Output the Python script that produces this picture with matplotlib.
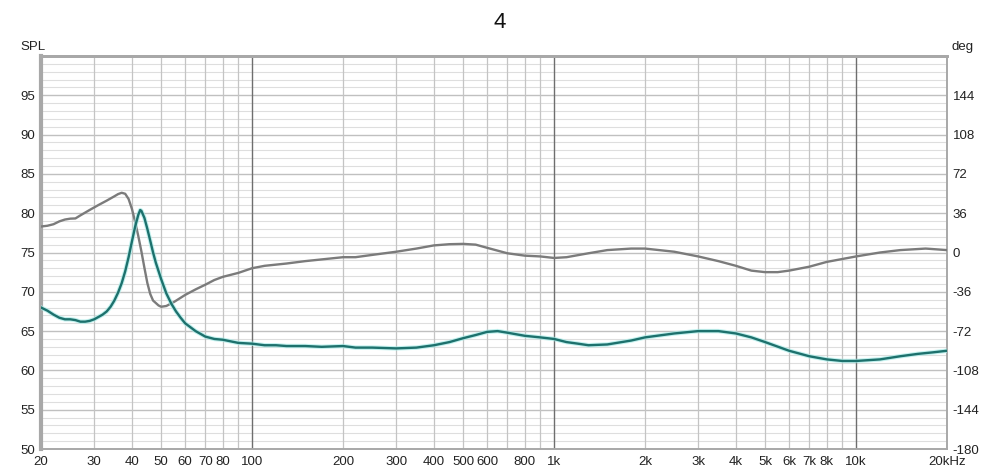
import matplotlib
matplotlib.use("Agg")
import matplotlib.pyplot as plt
import numpy as np

plt.rcParams['font.family'] = ['Liberation Sans', 'DejaVu Sans']

title = "4"

# SPL curve (dB)
spl_freq = [20, 21, 22, 23, 24, 25, 26, 27, 28, 29, 30, 31, 32, 33, 34, 35, 36, 37, 38, 39, 40,
            41, 42, 42.6, 43, 44, 45, 46, 47, 48, 50, 52, 54, 56, 58, 60, 65, 70, 75, 80,
            90, 100, 110, 120, 130, 150, 170, 200, 220, 250, 300, 350, 400, 450, 500,
            550, 600, 650, 700, 800, 900, 1000, 1100, 1200, 1300, 1500, 1800, 2000,
            2500, 3000, 3500, 4000, 4500, 5000, 6000, 7000, 8000, 9000, 10000, 12000,
            14000, 16000, 18000, 20000]
spl_db = [68.0, 67.6, 67.1, 66.7, 66.5, 66.5, 66.4, 66.2, 66.2, 66.3, 66.5, 66.8, 67.1, 67.5, 68.1, 68.9, 69.9, 71.1, 72.6, 74.4, 76.4,
          78.3, 79.8, 80.4, 80.3, 79.4, 78.0, 76.5, 75.0, 73.7, 71.6, 69.8, 68.5, 67.5, 66.7, 66.0, 65.0, 64.3, 64.0, 63.9,
          63.5, 63.4, 63.2, 63.2, 63.1, 63.1, 63.0, 63.1, 62.9, 62.9, 62.8, 62.9, 63.2, 63.6, 64.1,
          64.5, 64.9, 65.0, 64.8, 64.4, 64.2, 64.0, 63.6, 63.4, 63.2, 63.3, 63.8, 64.2,
          64.7, 65.0, 65.0, 64.7, 64.2, 63.6, 62.5, 61.8, 61.4, 61.2, 61.2, 61.4,
          61.8, 62.1, 62.3, 62.5]

# Phase curve (degrees)
ph_freq = [20, 21, 22, 23, 24, 25, 26, 27, 29, 31, 33, 35, 36, 37, 38, 39, 40, 41, 42, 43,
           44, 45, 46, 47, 49, 50, 52, 55, 60, 65, 70, 75, 80, 90, 100, 110, 130, 150,
           200, 220, 250, 300, 350, 400, 450, 500, 550, 600, 700, 800, 900, 1000, 1100,
           1300, 1500, 1800, 2000, 2500, 3000, 3500, 4000, 4500, 5000, 5500, 6000, 7000,
           8000, 10000, 12000, 14000, 17000, 20000]
ph_deg = [23.8, 24.5, 25.9, 28.5, 30.2, 31.0, 31.2, 34.0, 39.0, 43.5, 47.5, 51.5, 53.5, 54.7, 53.8, 49.0, 40.0, 28.0, 15.0, 1.0,
          -14.0, -28.0, -38.0, -44.0, -48.5, -49.7, -49.0, -45.5, -38.9, -33.8, -29.5, -25.2, -22.3, -18.7, -14.4, -12.2, -10.1, -7.9,
          -4.3, -4.3, -2.2, 0.7, 3.6, 6.5, 7.6, 7.9, 7.2, 4.3, -0.7, -2.9, -3.6, -5.0, -4.3,
          -0.7, 2.2, 3.6, 3.6, 0.7, -3.6, -7.9, -12.2, -16.6, -18.0, -18.0, -16.6, -13.0,
          -8.6, -3.6, 0.0, 2.2, 3.6, 2.2]

x_ticks = [20, 30, 40, 50, 60, 70, 80, 100, 200, 300, 400, 500, 600, 800,
           1000, 2000, 3000, 4000, 5000, 6000, 7000, 8000, 10000, 20000]
x_labels = ["20", "30", "40", "50", "60", "70", "80", "100", "200", "300", "400", "500", "600", "800",
            "1k", "2k", "3k", "4k", "5k", "6k", "7k", "8k", "10k", "20kHz"]
y_ticks = [50, 55, 60, 65, 70, 75, 80, 85, 90, 95]
deg_ticks = [-180, -144, -108, -72, -36, 0, 36, 72, 108, 144]

fig = plt.figure(figsize=(10, 4.71), dpi=100)
ax = fig.add_axes([0.041, 22/471, 0.906, 393/471])
ax.set_xscale('log')
ax.set_xlim(20, 20000)
ax.set_ylim(50, 100)

# grid
for y in range(51, 100):
    if y % 5 == 0:
        continue
    ax.axhline(y, color='#dedede', lw=0.8, zorder=0)
for y in y_ticks[1:]:
    ax.axhline(y, color='#c0c0c0', lw=1.0, zorder=0)
for dec in [10, 100, 1000, 10000]:
    for m in range(1, 10):
        f = dec * m
        if f <= 20 or f >= 20000:
            continue
        if m == 1:
            ax.axvline(f, color='#6e6e6e', lw=1.0, zorder=0.5)
        else:
            ax.axvline(f, color='#c4c4c4', lw=0.9, zorder=0.4)

ax.set_xticks(x_ticks)
ax.set_xticklabels(x_labels)
ax.xaxis.set_minor_locator(matplotlib.ticker.NullLocator())
ax.set_yticks(y_ticks)
ax.tick_params(axis='both', length=0, labelsize=9.5, colors='#222222')
ax.tick_params(axis='x', pad=5)
ax.tick_params(axis='y', pad=4)

ax2 = ax.twinx()
ax2.set_ylim(-180, 180)
ax2.set_yticks(deg_ticks)
ax2.set_yticklabels([str(d).replace('\u2212', '-') for d in deg_ticks])
ax2.tick_params(axis='y', length=0, labelsize=9.5, colors='#222222', pad=4)

ax2.plot(ph_freq, ph_deg, color='#7b7b7b', lw=1.7, zorder=3)
spl_deg = [(v - 75) * 7.2 for v in spl_db]
ax2.plot(spl_freq, spl_deg, color='#a8ece8', lw=3.2, zorder=4, alpha=0.7)
ax2.plot(spl_freq, spl_deg, color='#1d716d', lw=1.7, zorder=5)

for a in (ax, ax2):
    for s in a.spines.values():
        s.set_color('#a8a8a8')
        s.set_linewidth(1.2)
ax.spines['left'].set_linewidth(3)
ax.spines['top'].set_linewidth(2)
ax2.spines['top'].set_linewidth(2)

fig.text(0.5, 1 - 22/471, title, ha='center', va='center', fontsize=16, color='#111111')
fig.text(0.020, 1 - 47/471, "SPL", ha='left', va='center', fontsize=9.5, color='#222222')
fig.text(0.952, 1 - 47/471, "deg", ha='left', va='center', fontsize=9.5, color='#222222')

fig.savefig("out.png", dpi=100)
